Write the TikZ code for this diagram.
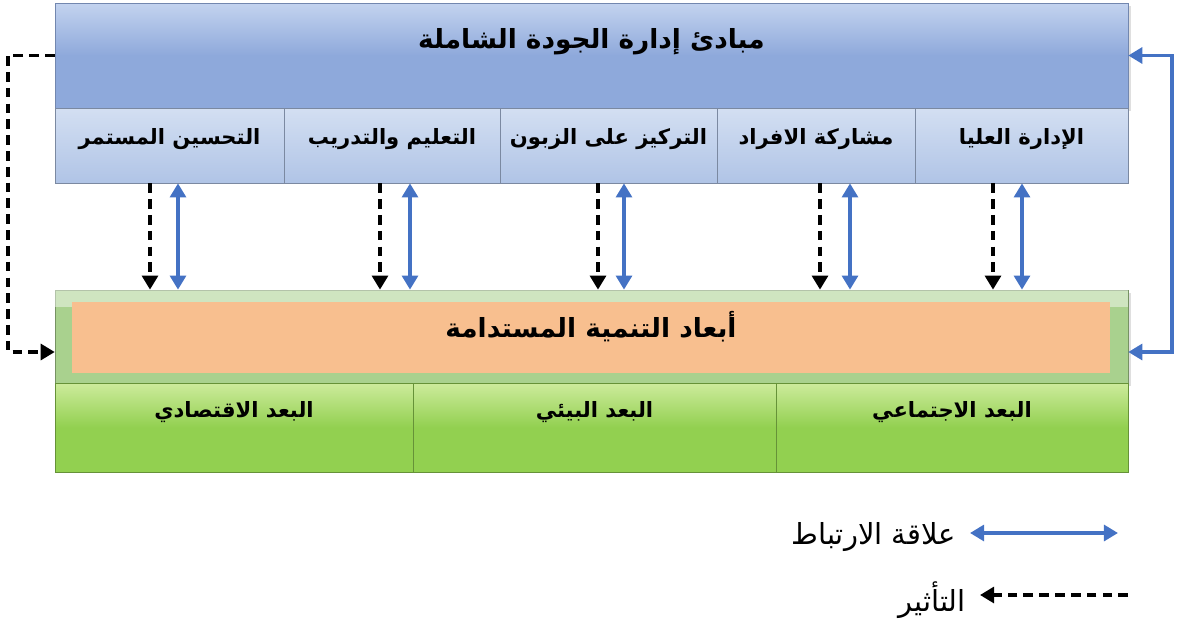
\documentclass[tikz,border=0pt]{standalone}
\usepackage{fontspec}
\newfontfamily\arabicfont[Script=Arabic]{DejaVu Sans}
\TeXXeTstate=1
\usetikzlibrary{arrows.meta,shadows}
\definecolor{barblue}{HTML}{8EA9DB}
\definecolor{barlight}{HTML}{C3D3EF}
\definecolor{cellblue}{HTML}{B0C4E6}
\definecolor{celllight}{HTML}{D3DFF2}
\definecolor{leafgreen}{HTML}{A9D18E}
\definecolor{peach}{HTML}{F8BF8F}
\definecolor{grassgreen}{HTML}{92D050}
\definecolor{grasslight}{HTML}{CDEB9C}
\definecolor{linkblue}{HTML}{4472C4}
\newcommand{\artxt}[1]{\arabicfont\beginR #1\endR}
\begin{document}
\begin{tikzpicture}[x=0.02cm, y=-0.02cm, >={Triangle[width=9pt,length=8pt]},
    titlebar/.style={draw=barblue!80!black, thin, top color=barlight, bottom color=barblue,
        middle color=barblue, drop shadow={opacity=.25,shadow xshift=1.5pt,shadow yshift=-1.5pt},
        font=\fontsize{15}{18}\selectfont\bfseries, text height=14pt, text depth=22pt},
    cell/.style={draw=cellblue!70!black, thin, top color=celllight, bottom color=cellblue,
        minimum height=1.5cm, font=\fontsize{12}{14}\selectfont\bfseries,
        text height=11pt, text depth=12pt},
    dimbar/.style={draw=leafgreen!70!black, thin, fill=leafgreen,
        drop shadow={opacity=.25,shadow xshift=1.5pt,shadow yshift=-1.5pt}},
    core/.style={fill=peach, font=\fontsize{15}{18}\selectfont\bfseries,
        text height=14pt, text depth=14pt},
    pillar/.style={draw=grassgreen!70!black, thin, top color=grasslight, bottom color=grassgreen,
        middle color=grassgreen, minimum height=1.78cm,
        font=\fontsize{12}{14}\selectfont\bfseries, text height=11pt, text depth=22pt},
    infl/.style={->, line width=2pt, dash pattern=on 5.5pt off 3.5pt},
    corr/.style={<->, line width=2pt, linkblue},
    keytxt/.style={font=\fontsize{16.5}{19}\selectfont, anchor=east}]
  \useasboundingbox (0,0) rectangle (1187,622);

  % principles of TQM
  \node[titlebar, minimum width=21.46cm, minimum height=2.1cm] (top) at (591.5,55.5)
      {\artxt{مبادئ إدارة الجودة الشاملة}};
  \node[cell, minimum width=4.58cm] (p1) at (169.5,145.5) {\artxt{التحسين المستمر}};
  \node[cell, minimum width=4.32cm] (p2) at (392,145.5) {\artxt{التعليم والتدريب}};
  \node[cell, minimum width=4.34cm] (p3) at (608.5,145.5) {\artxt{التركيز على الزبون}};
  \node[cell, minimum width=3.96cm] (p4) at (816,145.5) {\artxt{مشاركة الافراد}};
  \node[cell, minimum width=4.26cm] (p5) at (1021.5,145.5) {\artxt{الإدارة العليا}};

  % sustainable development
  \node[dimbar, minimum width=21.46cm, minimum height=1.86cm] (dim) at (591.5,336.5) {};
  \fill[white, opacity=.45] (dim.north west) -- (dim.north east) -- ([yshift=-10pt]dim.north east) -- ([yshift=-10pt]dim.north west) -- cycle;
  \node[core, minimum width=20.76cm, minimum height=1.42cm] (core) at (591,337.5)
      {\artxt{أبعاد التنمية المستدامة}};
  \node[pillar, minimum width=7.16cm] (d1) at (234,427.5) {\artxt{البعد الاقتصادي}};
  \node[pillar, minimum width=7.26cm] (d2) at (594.5,427.5) {\artxt{البعد البيئي}};
  \node[pillar, minimum width=7.04cm] (d3) at (952,427.5) {\artxt{البعد الاجتماعي}};

  % links between the two rows
  \foreach \i/\dx/\bx in {1/150/178, 2/380/410, 3/598/624, 4/820/850, 5/993/1022}{
    \draw[infl] (\dx,0 |- p\i.south) -- (\dx,0 |- dim.north);
    \draw[corr] (\bx,0 |- p\i.south) -- (\bx,0 |- dim.north);
  }

  % outer loops
  \coordinate (lfar) at (8,352);
  \coordinate (rfar) at (1172,352);
  \draw[infl] (top.west) -- (top.west -| lfar) -- (lfar) -- (lfar -| dim.west);
  \draw[corr] (top.east) -- (top.east -| rfar) -- (rfar) -- (rfar -| dim.east);

  % key
  \coordinate (corrA) at (970,533);
  \coordinate (corrB) at (1118,533);
  \draw[corr] (corrA) -- (corrB);
  \node[keytxt] (corrtxt) at (962,537) {\artxt{علاقة الارتباط}};
  \coordinate (inflA) at (1128,595);
  \coordinate (inflB) at (980,595);
  \draw[infl] (inflA) -- (inflB);
  \node[keytxt] (infltxt) at (972,600) {\artxt{التأثير}};
\end{tikzpicture}
\end{document}
